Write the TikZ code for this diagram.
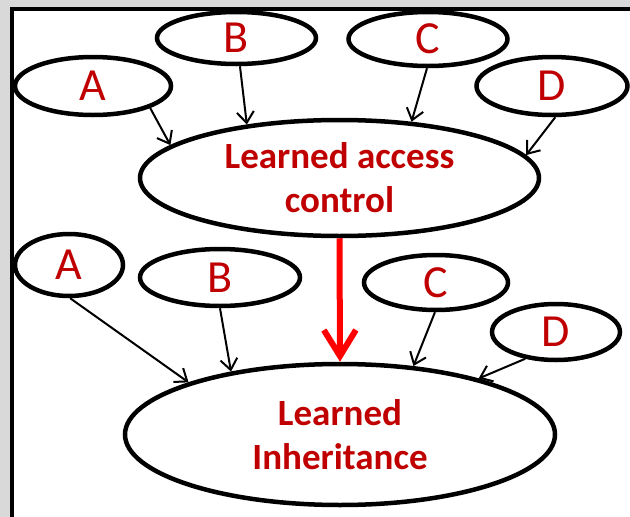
\documentclass[tikz,border=0pt]{standalone}
\usepackage{fontspec}
\setmainfont{Carlito}
\usetikzlibrary{shapes.geometric,arrows.meta}
\definecolor{txtred}{HTML}{C00000}
\definecolor{bggray}{HTML}{D9D9D9}
\tikzset{
  oval/.style={ellipse,draw=black,line width=4.5pt,fill=white,inner sep=0pt,text=txtred,font=\fontsize{46}{50}\selectfont},
  bigoval/.style={ellipse,draw=black,line width=4.5pt,fill=white,inner sep=0pt,text=txtred,align=center,font=\bfseries\fontsize{37}{44}\selectfont},
  thinarrow/.style={line width=2pt,-{Straight Barb[length=11pt,width=17pt,line width=2pt]}},
  redarrow/.style={draw=red,line width=6pt,-{Straight Barb[length=26pt,width=32pt,line width=6pt]}}
}
\begin{document}
\begin{tikzpicture}[x=1pt,y=-1pt]
\useasboundingbox (0,0) rectangle (630,517);
\fill[bggray] (0,0) rectangle (630,517);
\fill[white] (12,9) rectangle (630,517);
\draw[line width=4pt] (12,517) -- (12,9) -- (630,9);
% top row
\node[oval,minimum width=156pt,minimum height=58pt] (tA) at (93,86) {A};
\node[oval,minimum width=159pt,minimum height=52pt] (tB) at (236.5,38) {B};
\node[oval,minimum width=159pt,minimum height=54pt] (tC) at (428,39) {C};
\node[oval,minimum width=151pt,minimum height=58pt] (tD) at (552,86) {D};
\node[bigoval,minimum width=399pt,minimum height=116pt] (lac) at (339.5,178) {Learned access\\control};
% bottom row
\node[oval,minimum width=108pt,minimum height=62pt] (bA) at (69,265) {A};
\node[oval,minimum width=160pt,minimum height=57pt] (bB) at (220,277.5) {B};
\node[oval,minimum width=144pt,minimum height=55pt] (bC) at (436,282.5) {C};
\node[oval,minimum width=128pt,minimum height=56pt] (bD) at (556,332) {D};
\node[bigoval,minimum width=430pt,minimum height=141pt] (li) at (340,434.5) {Learned\\Inheritance};
% arrows
\draw[thinarrow] (tA.-21) -- (lac.169);
\draw[thinarrow] (tB.-83) -- (lac.150);
\draw[thinarrow] (tC.268) -- (lac.38);
\draw[thinarrow] (tD.276) -- (lac.7);
\draw[thinarrow] (bA.272) -- (li.161);
\draw[thinarrow] (bB.270) -- (li.150);
\draw[thinarrow] (bC.268) -- (li.43);
\draw[thinarrow] (bD.221) -- (li.22);
\draw[redarrow] (lac.south) -- (li.north);
\end{tikzpicture}
\end{document}
